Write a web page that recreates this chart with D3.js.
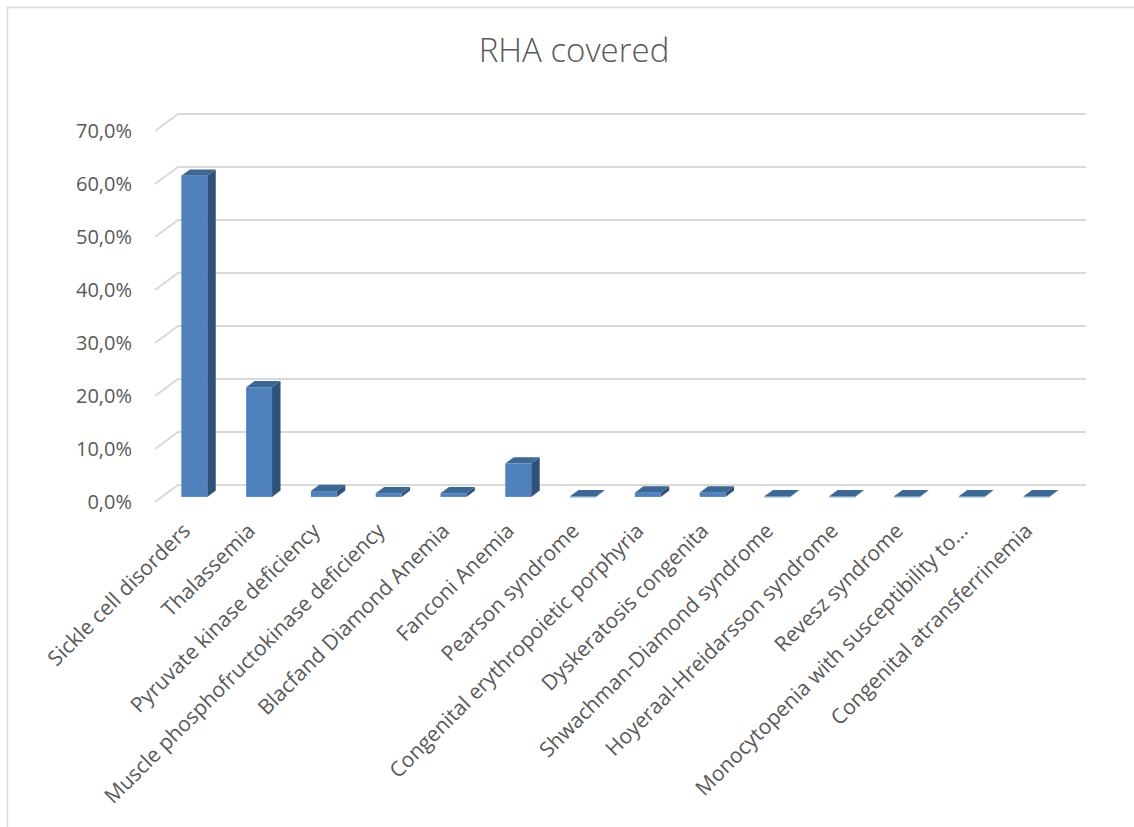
<!DOCTYPE html>
<html lang="en">
<head>
<meta charset="UTF-8" />
<title>RHA covered</title>
<style>
  body { margin: 0; background: #fff; }
  .chart-text { font-family: "Open Sans", sans-serif; fill: #595959; }
</style>
</head>
<body>
<svg id="chart" width="1134" height="827"></svg>
<script src="https://d3js.org/d3.v7.min.js"></script>
<script>
var categories = [
  "Sickle cell disorders",
  "Thalassemia",
  "Pyruvate kinase deficiency",
  "Muscle phosphofructokinase deficiency",
  "Blacfand Diamond Anemia",
  "Fanconi Anemia",
  "Pearson syndrome",
  "Congenital erythropoietic porphyria",
  "Dyskeratosis congenita",
  "Shwachman-Diamond syndrome",
  "Hoyeraal-Hreidarsson syndrome",
  "Revesz syndrome",
  "Monocytopenia with susceptibility to...",
  "Congenital atransferrinemia"
];
var values = [0.606, 0.207, 0.011, 0.007, 0.007, 0.063, 0.001, 0.008, 0.008, 0.001, 0.001, 0.001, 0.001, 0.001];
var yTicks = [0, 0.1, 0.2, 0.3, 0.4, 0.5, 0.6, 0.7];
var title = "RHA covered";

var svg = d3.select("#chart");

// outer chart border (Excel chart area)
svg.append("rect")
  .attr("x", 7.5).attr("y", 7.5)
  .attr("width", 1140).attr("height", 830)
  .attr("fill", "#fff")
  .attr("stroke", "#d9d9d9")
  .attr("stroke-width", 1.5);

// depth of the 3d floor (front plane -> back wall)
var DX = 23, DY = -17;
var f0 = 0.3, f1 = 0.67;   // bar depth, as fraction of floor depth

var x = d3.scaleBand().domain(categories).range([155, 1062]);
var y = d3.scaleLinear().domain([0, 0.7]).range([502, 131]);

var locale = d3.formatLocale({ decimal: ",", thousands: ".", grouping: [3], currency: ["", "€"] });
var fmt = locale.format(".1%");

// gridlines: short diagonal on the side wall + line along the back wall
var grid = svg.append("g").attr("stroke", "#d9d9d9").attr("stroke-width", 2).attr("fill", "none");
yTicks.forEach(function(t) {
  var yy = y(t);
  grid.append("path")
    .attr("d", "M" + x.range()[0] + "," + yy +
               "L" + (x.range()[0] + DX) + "," + (yy + DY) +
               "L" + (x.range()[1] + DX + 1) + "," + (yy + DY));
});

// y axis labels
var yAxis = svg.append("g")
  .attr("transform", "translate(" + x.range()[0] + ",0)")
  .call(d3.axisLeft(y).tickValues(yTicks).tickFormat(fmt).tickSize(0).tickPadding(23));
yAxis.select(".domain").remove();
yAxis.selectAll("text")
  .attr("class", "chart-text")
  .style("font-size", "20px");

// bars
var bw = x.bandwidth();
var barW = bw * 0.4;
var ddx = DX * (f1 - f0), ddy = DY * (f1 - f0);

var bars = svg.append("g").selectAll("g")
  .data(categories)
  .enter().append("g");

function geom(c, i) {
  var xf = x(c) + (bw - barW) / 2 + DX * f0;
  var yb = y(0) + DY * f0;
  var yt = y(values[i]) + DY * f0;
  return { xf: xf, yb: yb, yt: yt };
}

// side face
bars.append("path")
  .attr("fill", "#30527a")
  .attr("d", function(c, i) {
    var g = geom(c, i);
    return "M" + (g.xf + barW) + "," + g.yb +
           "L" + (g.xf + barW + ddx) + "," + (g.yb + ddy) +
           "L" + (g.xf + barW + ddx) + "," + (g.yt + ddy) +
           "L" + (g.xf + barW) + "," + g.yt + "Z";
  });

// top face
bars.append("path")
  .attr("fill", "#3d6795")
  .attr("d", function(c, i) {
    var g = geom(c, i);
    return "M" + g.xf + "," + g.yt +
           "L" + (g.xf + ddx) + "," + (g.yt + ddy) +
           "L" + (g.xf + barW + ddx) + "," + (g.yt + ddy) +
           "L" + (g.xf + barW) + "," + g.yt + "Z";
  });

// front face
bars.append("rect")
  .attr("fill", "#4f81bd")
  .attr("x", function(c, i) { return geom(c, i).xf; })
  .attr("y", function(c, i) { return geom(c, i).yt; })
  .attr("width", barW)
  .attr("height", function(c, i) { var g = geom(c, i); return Math.max(1, g.yb - g.yt); });

// category labels, rotated -45
svg.append("g").selectAll("text")
  .data(categories)
  .enter().append("text")
  .attr("class", "chart-text")
  .style("font-size", "21px")
  .attr("text-anchor", "end")
  .attr("transform", function(c) {
    return "translate(" + (x(c) + bw / 2 - 1) + ",527) rotate(-45)";
  })
  .attr("dy", "0.35em")
  .text(function(c) { return c; });

// title
svg.append("text")
  .attr("class", "chart-text")
  .attr("x", 574).attr("y", 62)
  .attr("text-anchor", "middle")
  .style("font-size", "33px")
  .style("font-weight", 300)
  .text(title);
</script>
</body>
</html>
